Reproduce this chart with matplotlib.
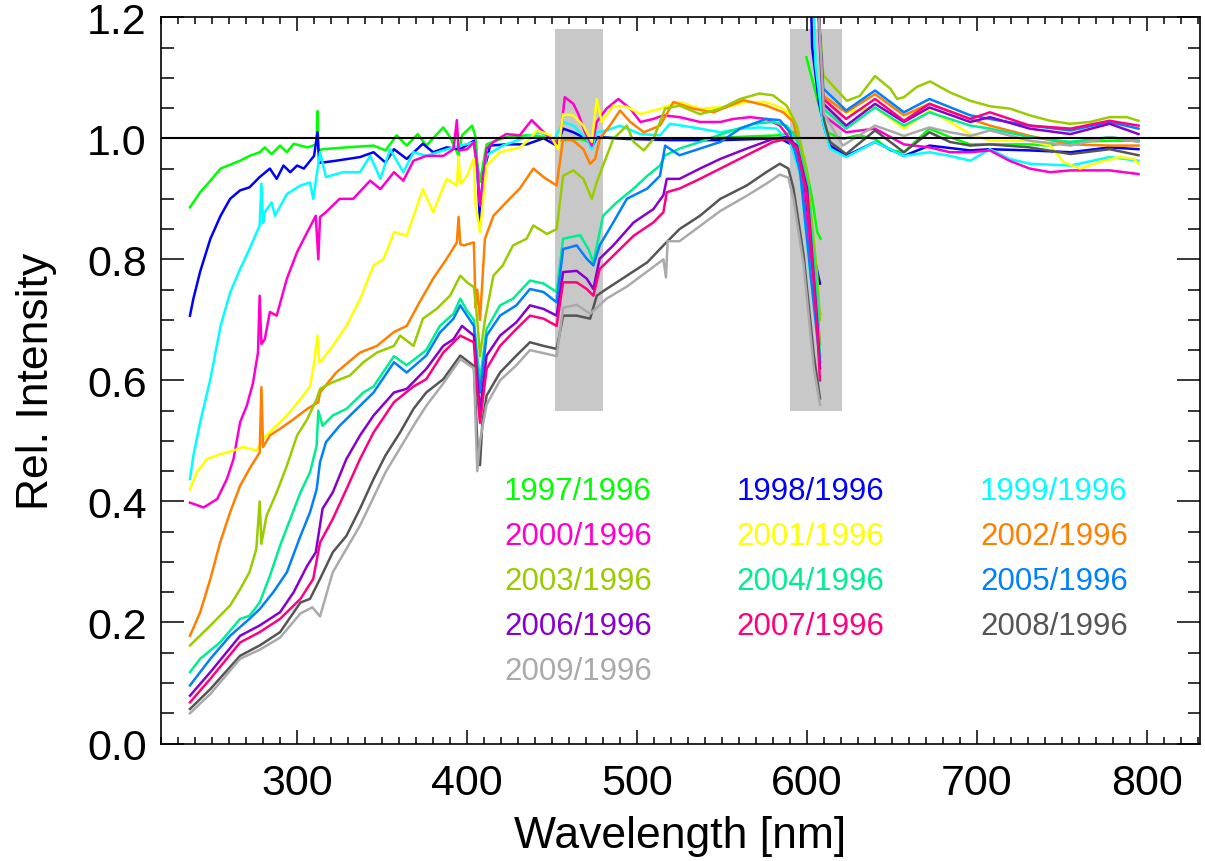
import numpy as np
import matplotlib
matplotlib.use('Agg')
import matplotlib.pyplot as plt
from matplotlib.ticker import MultipleLocator

nan = np.nan

years = ['1997', '1998', '1999', '2000', '2001', '2002', '2003',
         '2004', '2005', '2006', '2007', '2008', '2009']
colors = ['#00ff00', '#0000ff', '#00ffff', '#ff00cc', '#ffff00', '#ff8000',
          '#99cc00', '#00ee90', '#0080ff', '#8800cc', '#ff0080', '#555555',
          '#aaaaaa']

# wavelength [nm] / relative intensity, channels 1-3, gap, channel 4
wl_1997 = [237, 243, 249, 255, 266.5, 272, 278, 281, 285, 290, 294, 298, 306, 311.5, 312, 312.5, 315, 329, 345, 352,
           358.6, 364.5, 371, 376, 386, 390, 395, 397, 403, 405, 406,
           407.6, 411.5, 423, 435, 447, 454.6, 466.5, 472.4, 478, 494, 513.5, 540, 566, 584, 592, 598, 603, 606, 608,
           nan,
           599.6, 606, 611.5, 621, 630, 640, 649, 657, 672, 684, 696, 707.6, 731, 743, 755, 778, 795]
ri_1997 = [0.886, 0.911, 0.93, 0.95, 0.963, 0.971, 0.977, 0.985, 0.974, 0.988, 0.977, 0.991, 0.985, 0.99, 1.045, 0.98,
           0.982, 0.985, 0.988, 0.98, 1.005, 0.988, 1.007, 0.988, 1.018, 1.002, 0.971, 1.005, 1.021, 1.002, 0.96,
           0.928, 0.99, 1.002, 1.005, 1.002, 0.996, 0.999, 0.994, 1.002, 0.999, 1.0, 1.0, 1.003, 1.005, 1.01, 0.972,
           0.90, 0.845, 0.834,
           nan,
           1.134, 1.065, 1.01, 0.999, 1.005, 0.999, 0.98, 0.977, 1.016, 1.002, 0.99, 0.99, 0.99, 0.988, 0.994, 0.996,
           0.996]

wl_1998 = [237, 239, 243, 249, 255, 260.6, 266.5, 272, 278, 284, 288, 292, 296, 300, 304, 310, 312, 313, 315, 323, 337,
           345, 352, 357, 364.5, 374, 380, 388, 396, 404, 406,
           407.6, 409.5, 413.5, 423, 435, 445, 452.7, 456.5, 462.5, 470.4, 473.4, 476.3, 494, 520, 550, 584, 592, 598,
           604, 607.6,
           nan,
           600, 603, 607, 610, 613.5, 623, 640, 657, 672, 696, 707.6, 731, 755, 778, 795]
ri_1998 = [0.707, 0.735, 0.78, 0.834, 0.872, 0.9, 0.914, 0.919, 0.936, 0.95, 0.933, 0.955, 0.944, 0.955, 0.95, 0.971,
           1.01, 0.96, 0.96, 0.963, 0.969, 0.977, 0.96, 0.982, 0.966, 0.991, 0.977, 0.985, 0.982, 0.996, 0.95,
           0.86, 0.94, 0.988, 0.99, 0.99, 1.0, 0.988, 1.016, 1.01, 0.999, 0.985, 1.002, 0.999, 0.997, 0.997, 1.0,
           0.988, 0.917, 0.806, 0.76,
           nan,
           1.5, 1.15, 1.06, 1.02, 0.988, 0.971, 0.994, 0.971, 0.988, 0.98, 0.982, 0.98, 0.977, 0.985, 0.982]

wl_1999 = [237, 239, 243, 249, 255, 260.6, 266.5, 272, 278, 279, 280, 281, 285, 287, 294, 302, 307.6, 309.5, 313.5,
           317, 327, 337, 343, 349, 354.7, 362.5, 368.5, 376, 386, 396, 404, 406,
           407.6, 411.5, 421, 435, 443, 451, 456.5, 462.5, 470.4, 473.4, 476.3, 482, 490, 502, 513.5, 519.4, 533,
           549, 560.6, 572, 582, 590, 596, 602, 607.6,
           nan,
           601.5, 605, 609, 613.5, 623, 640, 657, 672, 684, 696, 707.6, 719, 731, 755, 778, 795]
ri_1999 = [0.437, 0.476, 0.531, 0.602, 0.69, 0.745, 0.784, 0.817, 0.856, 0.925, 0.86, 0.878, 0.894, 0.872, 0.908,
           0.922, 0.927, 0.9, 0.977, 0.936, 0.944, 0.944, 0.971, 0.933, 0.982, 0.944, 0.977, 0.971, 0.98, 0.988,
           0.993, 0.95,
           0.894, 0.972, 0.988, 1.002, 1.01, 0.996, 1.027, 1.021, 0.999, 0.982, 1.01, 1.013, 1.021, 1.007, 1.005,
           1.024, 1.018, 1.01, 1.016, 1.018, 1.016, 0.994, 0.94, 0.773, 0.66,
           nan,
           1.5, 1.12, 1.03, 0.983, 0.969, 0.994, 0.971, 0.977, 0.971, 0.963, 0.982, 0.966, 0.958, 0.955, 0.969, 0.963]

wl_2000 = [237, 245, 253, 258.7, 262.6, 266.5, 270.4, 274, 277, 278, 279, 281, 284, 288, 294, 300, 306, 311, 312.5,
           313.5, 317, 325, 333, 343, 349, 357, 362.5, 368.5, 376, 386, 392, 394, 395, 400, 404, 406,
           407.6, 411.5, 415.5, 423, 431, 438, 443, 451, 454.6, 457.5, 462.5, 465.5, 469.4, 473.4, 476.3, 482, 489,
           496, 502, 509.6, 515.5, 525, 537, 549, 556.7, 566.5, 576, 584, 590, 596, 602, 607.6,
           nan,
           604, 607, 609.6, 623, 640, 657, 672, 684, 696, 707.6, 719, 731, 743, 755, 778, 795]
ri_2000 = [0.398, 0.39, 0.404, 0.437, 0.47, 0.531, 0.558, 0.595, 0.646, 0.74, 0.66, 0.668, 0.713, 0.707, 0.768, 0.812,
           0.845, 0.872, 0.80, 0.87, 0.878, 0.9, 0.9, 0.93, 0.916, 0.944, 0.93, 0.963, 0.971, 0.971, 0.982, 1.03,
           0.98, 0.982, 0.993, 0.95,
           0.889, 0.983, 0.994, 1.007, 1.005, 1.03, 1.016, 0.994, 0.996, 1.068, 1.057, 1.04, 1.01, 0.988, 1.027,
           1.049, 1.065, 1.049, 1.027, 1.032, 1.038, 1.035, 1.027, 1.027, 1.032, 1.035, 1.032, 1.021, 0.999, 0.96,
           0.806, 0.71,
           nan,
           1.5, 1.18, 1.038, 1.01, 1.016, 0.99, 0.985, 0.977, 0.977, 0.98, 0.963, 0.95, 0.944, 0.947, 0.947, 0.941]

wl_2001 = [237, 241, 247, 254.7, 262.6, 268.4, 276, 280, 286, 294, 302, 307.6, 309.5, 312, 313, 315, 321, 329, 337,
           345, 351, 357, 364.5, 374, 380, 388, 394, 395, 396, 400, 404, 405,
           407.6, 411.5, 419.4, 431, 437, 441, 449, 453.6, 456.5, 462.5, 468.4, 473.4, 476.3, 479.2, 486, 494, 502,
           513.5, 525, 537, 553, 564.5, 576, 586, 592, 598, 604, 607.6,
           nan,
           604, 607, 609.6, 623, 640, 657, 672, 684, 696, 707.6, 731, 743, 750.8, 760.6, 772.4, 784, 792, 795]
ri_2001 = [0.42, 0.448, 0.47, 0.478, 0.484, 0.49, 0.484, 0.503, 0.52, 0.542, 0.569, 0.59, 0.619, 0.674, 0.63, 0.635,
           0.657, 0.69, 0.734, 0.79, 0.801, 0.845, 0.839, 0.916, 0.878, 0.933, 0.922, 0.97, 0.925, 0.938, 0.966,
           0.89,
           0.845, 0.955, 0.977, 0.985, 0.999, 1.013, 1.005, 0.982, 1.04, 1.038, 1.021, 0.994, 1.065, 1.027, 1.054,
           1.052, 1.04, 1.049, 1.06, 1.049, 1.052, 1.06, 1.06, 1.049, 1.032, 0.972, 0.806, 0.70,
           nan,
           1.5, 1.2, 1.082, 1.043, 1.051, 1.016, 1.046, 1.027, 1.007, 0.996, 0.996, 0.988, 0.961, 0.95, 0.961, 0.969,
           0.966, 0.958]

wl_2002 = [237, 243, 249, 254.7, 260.6, 266.5, 272, 278, 279, 280, 284, 290, 298, 306, 312.5, 313.5, 323, 337, 347,
           357, 364.5, 372, 380, 388, 394, 395, 396, 398, 404, 405, 406,
           407.6, 410.5, 415.5, 425, 431, 439, 445, 452.7, 456.5, 462.5, 468.4, 472.4, 475.3, 478, 484, 490, 496,
           504, 513.5, 521.4, 533, 545, 562.6, 576, 586, 592, 598, 604, 607.6,
           nan,
           604, 607, 609.6, 623, 640, 657, 672, 696, 707.6, 731, 755, 778, 795]
ri_2002 = [0.178, 0.217, 0.272, 0.332, 0.382, 0.426, 0.454, 0.481, 0.589, 0.49, 0.509, 0.52, 0.536, 0.553, 0.564,
           0.58, 0.613, 0.646, 0.657, 0.68, 0.69, 0.729, 0.768, 0.801, 0.828, 0.87, 0.825, 0.823, 0.828, 0.72, 0.75,
           0.70, 0.834, 0.872, 0.9, 0.917, 0.95, 0.936, 0.922, 0.999, 0.996, 0.982, 0.958, 0.966, 0.999, 1.021,
           1.046, 1.027, 1.01, 1.021, 1.06, 1.049, 1.043, 1.063, 1.054, 1.043, 1.027, 0.955, 0.795, 0.66,
           nan,
           1.5, 1.2, 1.07, 1.043, 1.073, 1.038, 1.057, 1.032, 1.021, 1.004, 0.99, 0.988, 0.988]

wl_2003 = [237, 249, 260.6, 266.5, 272, 276, 278, 279, 282, 288, 294, 300, 306, 311.5, 313.5, 321, 331, 339, 347,
           357, 360.6, 368.5, 374, 382, 390, 396, 400, 404, 406,
           407.6, 410.5, 415.5, 421, 427, 435, 439, 447, 452.7, 456.5, 462.5, 468.4, 473.4, 476.3, 480, 486, 494,
           498, 504, 509.6, 516.5, 525, 537, 549, 560.6, 572, 580, 588, 594, 600, 606, 607.6,
           nan,
           604, 607, 609.6, 623.4, 631, 640, 649, 653, 657, 664.6, 672.4, 684, 696, 707.6, 719.4, 731, 743, 754.7,
           766.5, 778, 788, 795]
ri_2003 = [0.162, 0.195, 0.228, 0.255, 0.283, 0.321, 0.40, 0.33, 0.376, 0.415, 0.459, 0.509, 0.536, 0.569, 0.586,
           0.597, 0.608, 0.63, 0.646, 0.657, 0.674, 0.657, 0.702, 0.718, 0.74, 0.773, 0.762, 0.754, 0.70,
           0.64, 0.70, 0.773, 0.79, 0.823, 0.834, 0.856, 0.842, 0.85, 0.938, 0.947, 0.933, 0.9, 0.928, 0.955, 0.999,
           1.021, 0.994, 0.98, 0.999, 1.049, 1.054, 1.04, 1.049, 1.065, 1.074, 1.071, 1.054, 1.021, 0.944, 0.773,
           0.70,
           nan,
           1.5, 1.2, 1.104, 1.062, 1.07, 1.103, 1.082, 1.065, 1.068, 1.085, 1.094, 1.076, 1.062, 1.053, 1.049,
           1.038, 1.029, 1.024, 1.027, 1.035, 1.035, 1.029]

wl_2004 = [237, 243, 254.7, 266.5, 272, 278, 284, 290, 296, 302, 307.6, 311.5, 312.5, 315, 321, 329, 339, 345, 357,
           364.5, 376, 384, 392, 396, 400, 404, 406,
           407.6, 411.5, 419.4, 427, 437, 445, 452.7, 456.5, 466.5, 471.4, 474.3, 480, 488, 498, 506, 513.5, 516.5,
           525, 537, 553, 568.5, 580, 588, 594, 600, 606, 607.6,
           nan,
           604, 607, 609.6, 623, 640, 657, 672, 696, 707.6, 731, 755, 778, 795]
ri_2004 = [0.118, 0.14, 0.167, 0.206, 0.211, 0.233, 0.277, 0.327, 0.371, 0.415, 0.448, 0.492, 0.55, 0.525, 0.542,
           0.553, 0.58, 0.59, 0.64, 0.625, 0.65, 0.69, 0.71, 0.735, 0.715, 0.70, 0.64,
           0.60, 0.685, 0.724, 0.735, 0.765, 0.76, 0.746, 0.834, 0.84, 0.817, 0.795, 0.872, 0.894, 0.917, 0.938,
           0.955, 0.972, 0.983, 0.994, 1.01, 1.024, 1.027, 1.021, 0.999, 0.928, 0.74, 0.64,
           nan,
           1.5, 1.2, 1.049, 1.016, 1.051, 1.021, 1.043, 1.021, 1.016, 1.002, 0.994, 1.002, 0.996]

wl_2005 = [237, 249, 260.6, 272, 278, 286, 294, 302, 307.6, 311.5, 313.5, 317, 325, 337, 345, 357, 364.5, 376, 384,
           392, 396, 400, 404, 406,
           407.6, 411.5, 419.4, 429, 437, 445, 452.7, 456.5, 464.5, 470.4, 474.3, 478, 486, 494, 506, 513.5, 516.5,
           525, 537, 549, 560.6, 576, 584, 590, 596, 604, 607.6,
           nan,
           604, 607, 609.6, 623, 640, 657, 672, 696, 707.6, 731, 755, 778, 795]
ri_2005 = [0.096, 0.14, 0.178, 0.206, 0.222, 0.25, 0.283, 0.343, 0.382, 0.42, 0.465, 0.498, 0.525, 0.558, 0.58, 0.63,
           0.613, 0.641, 0.679, 0.702, 0.724, 0.707, 0.69, 0.62,
           0.58, 0.674, 0.707, 0.724, 0.751, 0.746, 0.729, 0.817, 0.823, 0.801, 0.79, 0.823, 0.861, 0.9, 0.917,
           0.938, 0.988, 0.972, 0.983, 0.994, 1.016, 1.032, 1.03, 1.01, 0.944, 0.724, 0.63,
           nan,
           1.5, 1.2, 1.082, 1.046, 1.079, 1.043, 1.065, 1.038, 1.032, 1.021, 1.013, 1.027, 1.016]

wl_2006 = [237, 249, 266.5, 278, 290, 298, 306, 311, 315, 321, 329, 337, 345, 357, 364.5, 376, 386, 392, 397, 404,
           406,
           407.6, 411.5, 419.4, 429, 437, 445, 452.7, 456.5, 464.5, 470.4, 474.3, 478, 486, 498, 509.6, 515.5, 517.5,
           525, 537, 549, 564.5, 580, 588, 594, 600, 606, 607.6,
           nan,
           604, 607, 609.6, 623, 640, 657, 672, 696, 707.6, 731, 755, 778, 795]
ri_2006 = [0.079, 0.118, 0.178, 0.195, 0.217, 0.25, 0.294, 0.316, 0.388, 0.415, 0.47, 0.509, 0.542, 0.58, 0.586,
           0.619, 0.657, 0.668, 0.69, 0.674, 0.60,
           0.55, 0.641, 0.674, 0.696, 0.724, 0.718, 0.707, 0.779, 0.781, 0.768, 0.751, 0.801, 0.823, 0.861, 0.883,
           0.906, 0.933, 0.933, 0.95, 0.966, 0.983, 0.999, 1.002, 0.988, 0.917, 0.696, 0.62,
           nan,
           1.5, 1.2, 1.057, 1.021, 1.057, 1.027, 1.051, 1.027, 1.035, 1.016, 1.007, 1.024, 1.007]

wl_2007 = [237, 249, 266.5, 278, 290, 302, 309.5, 313.5, 321, 329, 337, 345, 357, 368.5, 376, 386, 396, 404, 406,
           407.6, 411.5, 419.4, 429, 437, 445, 452.7, 456.5, 464.5, 470.4, 474.3, 478, 486, 498, 509.6, 515.5, 517.5,
           525, 537, 549, 564.5, 580, 588, 594, 600, 606, 607.6,
           nan,
           604, 607, 609.6, 623, 640, 657, 672, 696, 707.6, 731, 755, 778, 795]
ri_2007 = [0.068, 0.107, 0.167, 0.184, 0.206, 0.239, 0.272, 0.332, 0.371, 0.42, 0.47, 0.514, 0.564, 0.59, 0.602,
           0.646, 0.674, 0.663, 0.58,
           0.53, 0.619, 0.657, 0.685, 0.707, 0.702, 0.69, 0.762, 0.762, 0.751, 0.74, 0.784, 0.806, 0.839, 0.861,
           0.878, 0.911, 0.917, 0.933, 0.95, 0.972, 0.994, 0.999, 0.985, 0.906, 0.685, 0.60,
           nan,
           1.5, 1.2, 1.065, 1.032, 1.065, 1.029, 1.057, 1.032, 1.043, 1.021, 1.016, 1.029, 1.021]

wl_2008 = [237, 249, 266.5, 278, 290, 302, 307.6, 313.5, 321, 329, 337, 345, 352, 360.6, 368.5, 376, 386, 396, 404,
           406,
           407.6, 409, 411.5, 419.4, 429, 437, 445, 452.7, 456.5, 464.5, 472.4, 476.3, 482, 494, 506, 515.5, 525,
           537, 549, 564.5, 576, 584, 589, 592, 598, 604, 607.6,
           nan,
           604, 607, 610, 613.5, 623, 640, 657, 672, 684, 696, 707.6, 731, 755, 778, 795]
ri_2008 = [0.057, 0.09, 0.145, 0.162, 0.184, 0.233, 0.239, 0.272, 0.316, 0.343, 0.388, 0.437, 0.476, 0.514, 0.553,
           0.58, 0.602, 0.641, 0.624, 0.50,
           0.46, 0.53, 0.575, 0.613, 0.641, 0.663, 0.657, 0.652, 0.707, 0.707, 0.702, 0.74, 0.751, 0.773, 0.795,
           0.823, 0.85, 0.872, 0.9, 0.922, 0.944, 0.958, 0.95, 0.917, 0.806, 0.641, 0.57,
           nan,
           1.5, 1.2, 1.03, 0.994, 0.974, 1.013, 0.977, 1.01, 0.994, 0.988, 0.99, 0.985, 0.974, 0.982, 0.972]

wl_2009 = [237, 249, 266.5, 278, 290, 302, 309, 313.5, 321, 337, 352, 368.5, 376, 386, 396, 404, 406,
           407.6, 411.5, 419.4, 429, 437, 445, 452.7, 456.5, 464.5, 472.4, 476.3, 482, 494, 506, 515.5, 517, 518,
           525, 537, 549, 564.5, 576, 584, 589, 592, 598, 604, 607.6,
           nan,
           604, 607, 610, 621, 640, 657, 672, 684, 696, 707.6, 731, 755, 778, 795]
ri_2009 = [0.05, 0.082, 0.14, 0.155, 0.175, 0.215, 0.225, 0.21, 0.283, 0.36, 0.448, 0.525, 0.558, 0.595, 0.635,
           0.62, 0.45,
           0.50, 0.56, 0.60, 0.625, 0.65, 0.645, 0.64, 0.72, 0.725, 0.71, 0.72, 0.735, 0.755, 0.78, 0.80, 0.77,
           0.83, 0.83, 0.855, 0.88, 0.905, 0.925, 0.94, 0.935, 0.9, 0.79, 0.62, 0.56,
           nan,
           1.5, 1.2, 1.04, 0.988, 1.021, 1.004, 1.018, 1.01, 1.004, 1.013, 0.996, 0.988, 1.002, 0.994]

wavelengths = [wl_1997, wl_1998, wl_1999, wl_2000, wl_2001, wl_2002, wl_2003,
               wl_2004, wl_2005, wl_2006, wl_2007, wl_2008, wl_2009]
ratios = [ri_1997, ri_1998, ri_1999, ri_2000, ri_2001, ri_2002, ri_2003,
          ri_2004, ri_2005, ri_2006, ri_2007, ri_2008, ri_2009]

# channel overlap regions (shaded)
overlaps = [(452, 480), (590, 620.5)]
shade_range = (0.55, 1.18)

plt.rcParams['font.family'] = ['Liberation Sans', 'DejaVu Sans']

fig = plt.figure(figsize=(12.05, 8.62), dpi=100)
ax = fig.add_axes([0.1334, 0.1363, 0.8625, 0.8425])

for lo, hi in overlaps:
    ax.fill_between([lo, hi], shade_range[0], shade_range[1], color='#c8c8c8', lw=0, zorder=1)

for wl, ri, c in zip(wavelengths, ratios, colors):
    ax.plot(wl, ri, color=c, lw=1.8, zorder=2)

ax.axhline(1.0, color='black', lw=1.5, zorder=3)

# year labels, three per row
col_x = [421.8, 558.5, 701.8]
row_y = [0.417, 0.343, 0.269, 0.194, 0.12]
for i, (yr, c) in enumerate(zip(years, colors)):
    ax.text(col_x[i % 3], row_y[i // 3], yr + '/1996', color=c, fontsize=22.5,
            ha='left', va='center', zorder=4)

ax.set_xlim(219.8, 831.2)
ax.set_ylim(0, 1.2)
ax.xaxis.set_major_locator(MultipleLocator(100))
ax.xaxis.set_minor_locator(MultipleLocator(10))
ax.yaxis.set_major_locator(MultipleLocator(0.2))
ax.yaxis.set_minor_locator(MultipleLocator(0.05))
ax.yaxis.set_major_formatter(plt.FormatStrFormatter('%.1f'))

ax.tick_params(axis='both', which='both', direction='in', top=True, right=True, width=1.1, labelsize=31)
ax.tick_params(axis='x', which='major', length=10, pad=14)
ax.tick_params(axis='x', which='minor', length=5)
ax.tick_params(axis='y', which='major', length=16.5, pad=10)
ax.tick_params(axis='y', which='minor', length=9)
for s in ax.spines.values():
    s.set_linewidth(1.2)

ax.set_xlabel('Wavelength [nm]', fontsize=32, labelpad=9)
ax.set_ylabel('Rel. Intensity', fontsize=32, labelpad=22)

fig.savefig('out.png', dpi=100)
